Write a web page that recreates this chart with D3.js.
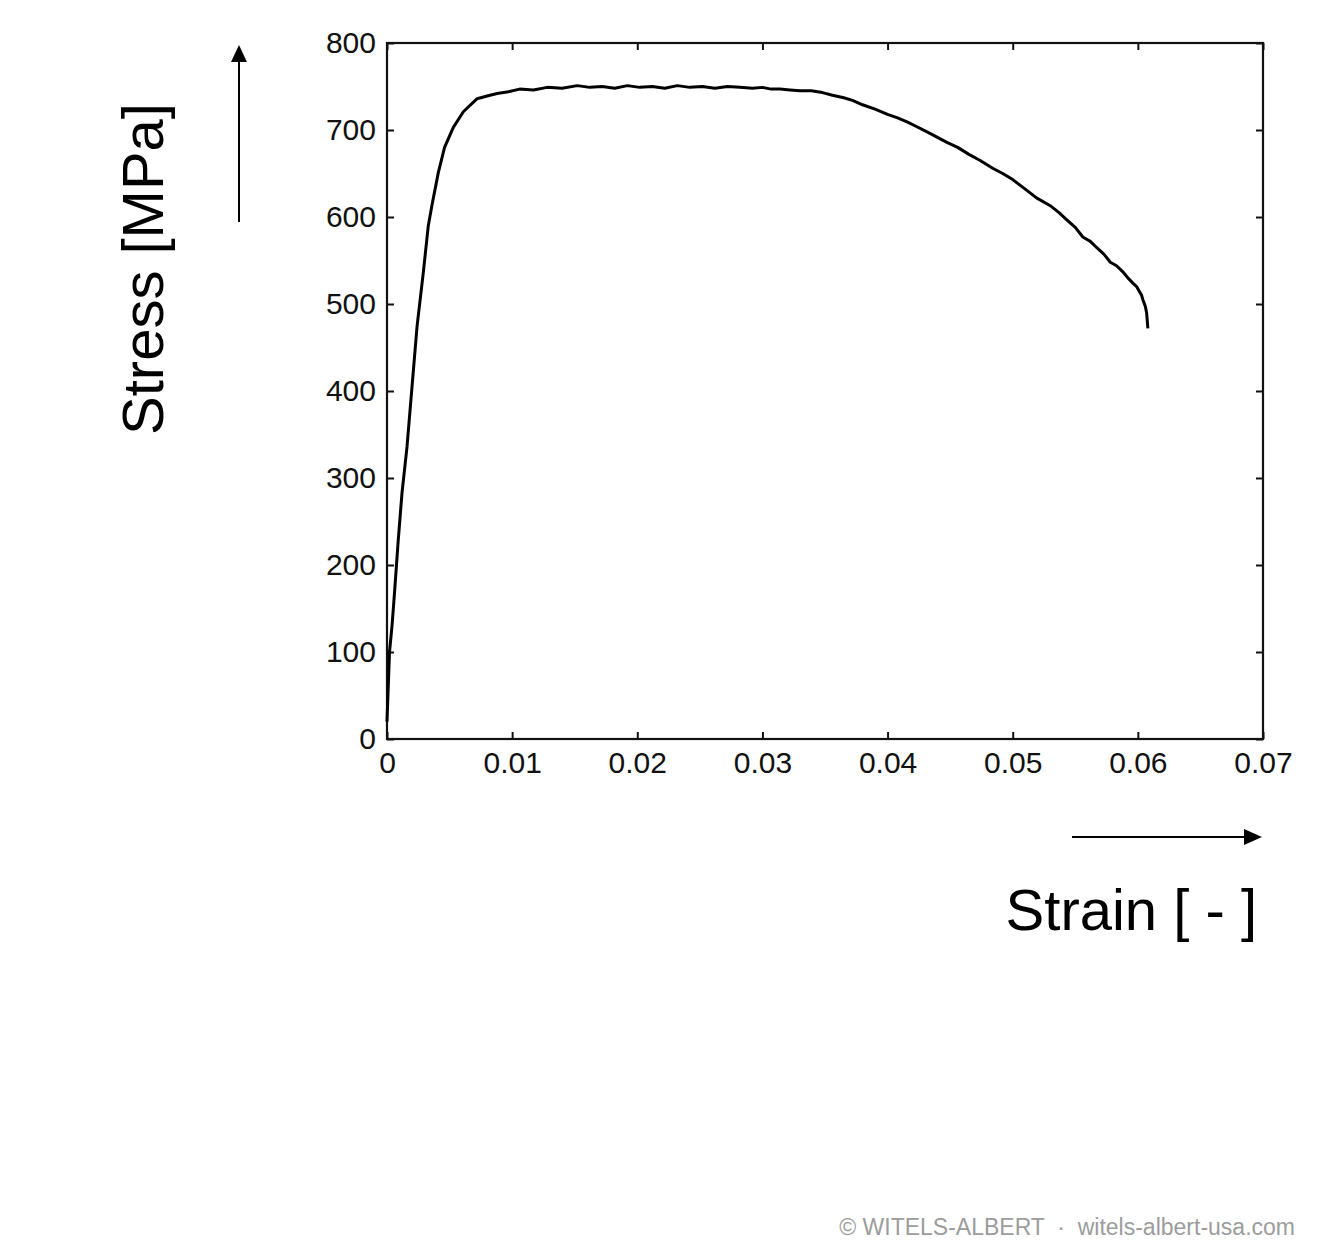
<!DOCTYPE html>
<html>
<head>
<meta charset="utf-8">
<script src="https://cdn.jsdelivr.net/npm/d3@7"></script>
<style>
  html, body { margin: 0; padding: 0; background: #fff; }
  svg { display: block; }
  text { font-family: "Liberation Sans", Arial, Helvetica, sans-serif; }
</style>
</head>
<body>
<svg id="chart" width="1323" height="1250"></svg>
<script>
// ---- data ----
const strain = [
  0.0000, 0.0001, 0.0002, 0.0004, 0.0006, 0.0009, 0.0012, 0.0016, 0.0020, 0.0024,
  0.0029, 0.0033, 0.0036, 0.0041, 0.0046, 0.0053, 0.0061, 0.0072, 0.0080, 0.0088,
  0.0097, 0.0106, 0.0117, 0.0128, 0.0140, 0.0152, 0.0162, 0.0172, 0.0182, 0.0192,
  0.0202, 0.0212, 0.0222, 0.0232, 0.0242, 0.0252, 0.0262, 0.0272, 0.0282, 0.0292,
  0.0300, 0.0307, 0.0314, 0.0322, 0.0330, 0.0339, 0.0348, 0.0356, 0.0365, 0.0372,
  0.0380, 0.0390, 0.0400, 0.0408, 0.0416, 0.0423, 0.0430, 0.0438, 0.0447, 0.0456,
  0.0465, 0.0474, 0.0484, 0.0492, 0.0500, 0.0510, 0.0519, 0.0530, 0.0537, 0.0543,
  0.0550, 0.0556, 0.0562, 0.0567, 0.0573, 0.0578, 0.0583, 0.0588, 0.0592, 0.0596,
  0.0599, 0.0601, 0.0603, 0.0604, 0.0606, 0.0607, 0.0608
];
const stress = [
  20, 60, 100, 130, 168, 229, 283, 336, 405, 474,
  536, 590, 614, 651, 680, 703, 721, 736, 739, 742,
  744, 747, 746, 749, 748, 751, 749, 750, 748, 751,
  749, 750, 748, 751, 749, 750, 748, 750, 749, 748,
  749, 747, 747, 746, 745, 745, 743, 740, 737, 734,
  729, 724, 718, 714, 709, 704, 699, 693, 686, 680,
  672, 665, 656, 650, 643, 632, 622, 613, 605, 597,
  588, 577, 572, 565, 557, 548, 544, 537, 530, 524,
  520, 515, 510, 505, 497, 490, 472
];
const xTicks = [0, 0.01, 0.02, 0.03, 0.04, 0.05, 0.06, 0.07];
const yTicks = [0, 100, 200, 300, 400, 500, 600, 700, 800];
const xTickLabels = ["0", "0.01", "0.02", "0.03", "0.04", "0.05", "0.06", "0.07"];
const yTickLabels = ["0", "100", "200", "300", "400", "500", "600", "700", "800"];
const xTitle = "Strain [ - ]";
const yTitle = "Stress [MPa]";
const credit = "© WITELS-ALBERT  ·  witels-albert-usa.com";

// ---- layout ----
const svg = d3.select("#chart");
const L = 387, R = 1263, T = 43, B = 739;
const x = d3.scaleLinear().domain([0, 0.07]).range([L, R]);
const y = d3.scaleLinear().domain([0, 800]).range([B, T]);
const tickLen = 7;

// frame
svg.append("rect")
  .attr("x", L).attr("y", T).attr("width", R - L).attr("height", B - T)
  .attr("fill", "none").attr("stroke", "#111").attr("stroke-width", 2.2);

function styleAxis(g) {
  g.select(".domain").remove();
  g.selectAll(".tick line").attr("stroke", "#111").attr("stroke-width", 2);
  g.selectAll(".tick text").attr("fill", "#111").attr("font-size", 30)
    .attr("font-family", "\"Liberation Sans\", Arial, sans-serif");
}

svg.append("g").attr("transform", `translate(0,${B})`)
  .call(d3.axisBottom(x).tickValues(xTicks).tickSizeInner(-tickLen).tickSizeOuter(0)
    .tickPadding(13).tickFormat((d, i) => xTickLabels[i]))
  .call(styleAxis);

svg.append("g").attr("transform", `translate(${L},0)`)
  .call(d3.axisLeft(y).tickValues(yTicks).tickSizeInner(-tickLen).tickSizeOuter(0)
    .tickPadding(11).tickFormat((d, i) => yTickLabels[i]))
  .call(styleAxis);

svg.append("g").attr("transform", `translate(0,${T})`)
  .call(d3.axisTop(x).tickValues(xTicks).tickSizeInner(-tickLen).tickSizeOuter(0).tickFormat(""))
  .call(styleAxis);

svg.append("g").attr("transform", `translate(${R},0)`)
  .call(d3.axisRight(y).tickValues(yTicks).tickSizeInner(-tickLen).tickSizeOuter(0).tickFormat(""))
  .call(styleAxis);

// curve
const pts = strain.map((s, i) => [s, stress[i]]);
svg.append("path")
  .datum(pts)
  .attr("fill", "none")
  .attr("stroke", "#000")
  .attr("stroke-width", 3)
  .attr("stroke-linejoin", "round")
  .attr("d", d3.line().x(d => x(d[0])).y(d => y(d[1])));

// axis titles
svg.append("text")
  .attr("transform", "translate(163,269) rotate(-90)")
  .attr("text-anchor", "middle")
  .attr("font-size", 58)
  .attr("fill", "#000")
  .text(yTitle);

svg.append("text")
  .attr("x", 1257).attr("y", 930)
  .attr("text-anchor", "end")
  .attr("font-size", 58)
  .attr("fill", "#000")
  .text(xTitle);

// arrows
svg.append("line").attr("x1", 239).attr("y1", 222).attr("x2", 239).attr("y2", 58)
  .attr("stroke", "#000").attr("stroke-width", 2);
svg.append("path").attr("d", "M239,45 L231,62 L247,62 Z").attr("fill", "#000");

svg.append("line").attr("x1", 1072).attr("y1", 837).attr("x2", 1248).attr("y2", 837)
  .attr("stroke", "#000").attr("stroke-width", 2);
svg.append("path").attr("d", "M1262,837 L1244,829 L1244,845 Z").attr("fill", "#000");

// credit
svg.append("text")
  .attr("x", 1295).attr("y", 1235)
  .attr("text-anchor", "end")
  .attr("font-size", 23)
  .attr("fill", "#9c9c9c")
  .attr("xml:space", "preserve")
  .style("white-space", "pre")
  .text(credit);
</script>
</body>
</html>
